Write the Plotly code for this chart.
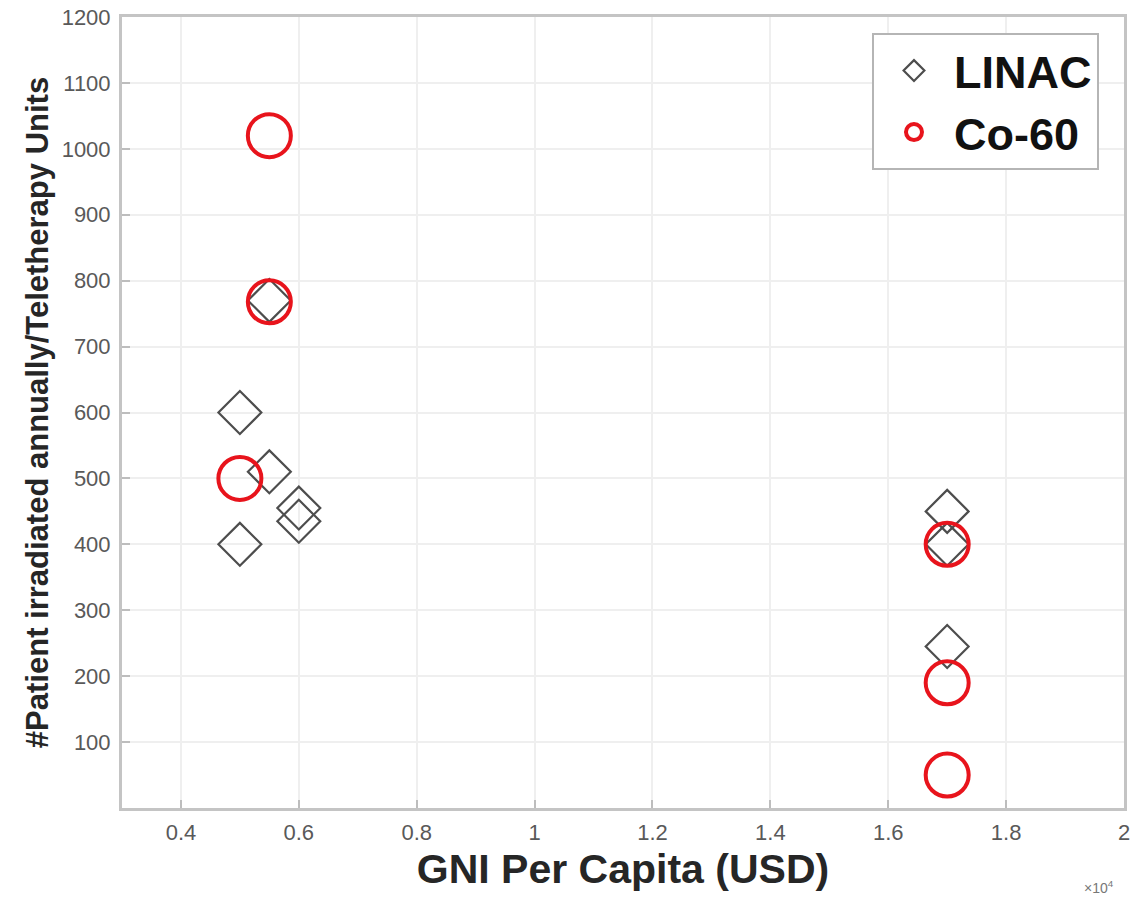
import plotly.graph_objects as go

# ---- data (GNI per capita in USD, patients per teletherapy unit) ----
linac_gni = [5500, 5000, 5500, 6000, 6000, 5000, 17000, 17000, 17000]
linac_pat = [770, 600, 510, 455, 435, 400, 450, 400, 245]

co60_gni = [5500, 5500, 5000, 17000, 17000, 17000]
co60_pat = [1020, 768, 500, 400, 190, 50]

x_tickvals = [4000, 6000, 8000, 10000, 12000, 14000, 16000, 18000, 20000]
x_ticktext = ["0.4", "0.6", "0.8", "1", "1.2", "1.4", "1.6", "1.8", "2"]
y_tickvals = [100, 200, 300, 400, 500, 600, 700, 800, 900, 1000, 1100, 1200]

FONT = "Liberation Sans, Arial, Helvetica, sans-serif"

fig = go.Figure()
fig.add_trace(go.Scatter(
    x=linac_gni, y=linac_pat, mode="markers", name="LINAC",
    marker=dict(symbol="diamond-open", size=33, color="#4d4d4d",
                line=dict(width=2.2, color="#4d4d4d")),
))
fig.add_trace(go.Scatter(
    x=co60_gni, y=co60_pat, mode="markers", name="Co-60",
    marker=dict(symbol="circle-open", size=43, color="#e8141c",
                line=dict(width=4, color="#e8141c")),
))

axis_common = dict(
    showline=True, linecolor="#c4c4c4", linewidth=3, mirror=True,
    ticks="inside", ticklen=8, tickwidth=2, tickcolor="#bdbdbd",
    showgrid=True, gridcolor="#efefef", gridwidth=2,
    zeroline=False, automargin=False, ticklabeloverflow="allow",
    tickfont=dict(family=FONT, size=22, color="#595959"),
)

fig.update_xaxes(
    range=[3000, 20000], tickvals=x_tickvals, ticktext=x_ticktext,
    title=dict(text="<b>GNI Per Capita (USD)</b>",
               font=dict(family=FONT, size=41, color="#262626"), standoff=10),
    ticklabelstandoff=3,
    **axis_common,
)
fig.update_yaxes(
    range=[0, 1200], tickvals=y_tickvals,
    title=dict(text="<b>#Patient irradiated annually/Teletherapy Units</b>",
               font=dict(family=FONT, size=31, color="#262626"), standoff=4),
    ticklabelstandoff=4,
    **axis_common,
)

fig.add_annotation(
    x=1.0, y=0, xref="paper", yref="paper", xanchor="right", yanchor="top",
    yshift=-68, xshift=-8, showarrow=False,
    text="×10<sup>4</sup>", font=dict(family=FONT, size=14, color="#777777"),
)

fig.update_layout(
    width=1130, height=898,
    margin=dict(l=122, r=6, t=17, b=90),
    paper_bgcolor="white", plot_bgcolor="white",
    showlegend=True,
    legend=dict(
        x=0.7485, y=0.98, xanchor="left", yanchor="top",
        bgcolor="white", bordercolor="#b5b5b5", borderwidth=2,
        font=dict(family=FONT, size=45, color="#111111", weight="bold"),
        itemwidth=70, tracegroupgap=0,
    ),
)

fig.write_html(
    "out.html",
    config={"displayModeBar": False},
    post_script="document.body.style.margin='0px';document.body.style.overflow='hidden';",
)
